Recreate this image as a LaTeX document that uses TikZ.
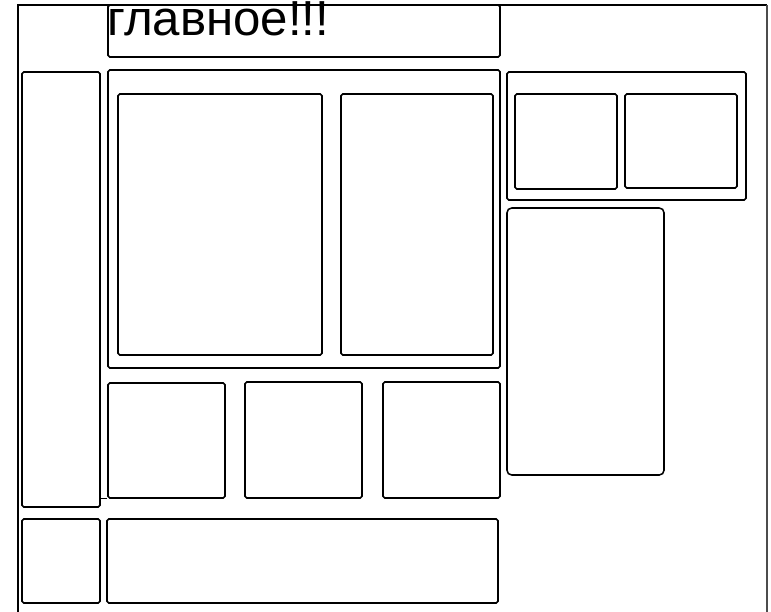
\documentclass[tikz,border=0pt]{standalone}
\usepackage{fontspec}
\setmainfont{Liberation Sans}
\usetikzlibrary{positioning}

\begin{document}
\begin{tikzpicture}[
    x=0.03cm, y=-0.03cm,
    box/.style 2 args={draw, line width=1.3pt, inner sep=0pt, rounded corners=1.5pt,
        minimum width=#1*0.03cm, minimum height=#2*0.03cm},
    frame/.style={line width=#1},
]
    \useasboundingbox (0,0) rectangle (771,612);

    % Header
    \node[box={392}{52}] (header) at (304,31) {};
    \node[anchor=base west, inner sep=0pt, font=\fontsize{42}{46}\selectfont] (title) at (107,35.5) {главное!!!};

    % Page frame
    \draw[frame=1.6pt] (18,612) -- (18,5) -- (767,5);
    \draw[frame=0.9pt, black!70] (767,5) -- (767,612);

    % Sidebar
    \node[box={78}{435}] (sidebar) at (61,289.5) {};

    % Content
    \node[box={392}{298}] (content) at (304,219) {};
    \node[box={204}{261}] (contentleft) at (220,224.5) {};
    \node[box={152}{261}] (contentright) at (417,224.5) {};

    % Widgets (top right)
    \node[box={239}{128}] (widgets) at (626.5,136) {};
    \node[box={102}{95}] (widgetA) at (566,141.5) {};
    \node[box={112}{94}] (widgetB) at (681,141) {};

    % Aside
    \node[box={157}{267}, rounded corners=4pt] (aside) at (585.5,341.5) {};

    % Teasers
    \node[box={117}{115}] (teaserA) at (166.5,440.5) {};
    \node[box={117}{116}] (teaserB) at (303.5,440) {};
    \node[box={117}{116}] (teaserC) at (441.5,440) {};
    \draw[line width=0.8pt] (sidebar.east |- teaserA.south) -- (teaserA.south west);

    % Footer
    \node[box={78}{84}] (footerleft) at (61,561) {};
    \node[box={391}{84}] (footer) at (302.5,561) {};
\end{tikzpicture}
\end{document}
